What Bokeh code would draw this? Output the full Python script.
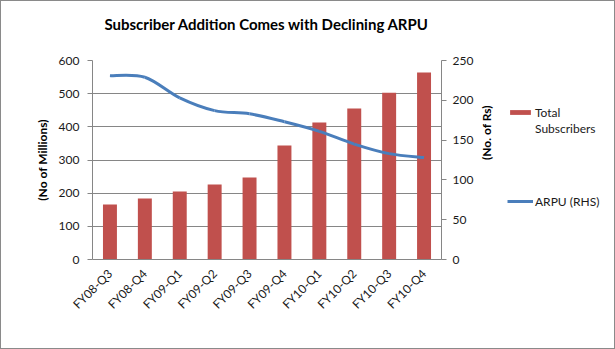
import math
from bokeh.plotting import figure
from bokeh.layouts import row
from bokeh.models import (FactorRange, Range1d, LinearAxis, FixedTicker, Legend,
                          LegendItem, Title)
from bokeh.embed import file_html
from bokeh.resources import INLINE

quarters = ["FY08-Q3", "FY08-Q4", "FY09-Q1", "FY09-Q2", "FY09-Q3",
            "FY09-Q4", "FY10-Q1", "FY10-Q2", "FY10-Q3", "FY10-Q4"]
subscribers = [166, 184, 205, 226, 247, 344, 413, 455, 503, 564]
arpu = [231, 229, 203, 187, 183, 173, 161, 145, 133, 128]
left_ticks = [0, 100, 200, 300, 400, 500, 600]
right_ticks = [0, 50, 100, 150, 200, 250]

FONT = "Lato"
GRID = "#868686"
BAR = "#C0504D"
LINE = "#4A7EBB"
TXT = "#1a1a1a"

p = figure(width=504, height=347, x_range=FactorRange(*quarters, range_padding=0),
           y_range=Range1d(0, 600), output_backend="svg", toolbar_location=None,
           min_border_left=91, min_border_right=64, min_border_top=59,
           min_border_bottom=89, title="Subscriber Addition Comes with Declining ARPU")
p.extra_y_ranges = {"arpu": Range1d(0, 250)}
p.outline_line_color = None
p.background_fill_color = "white"

p.title.align = "center"
p.title.text_font = FONT
p.title.text_font_size = "15px"
p.title.text_font_style = "bold"
p.title.text_color = "#000000"
p.title.offset = 0
p.title.standoff = 0
# empty spacer between the plot area and the title
p.add_layout(Title(text=" ", text_font_size="2px", standoff=24), "above")

bars = p.vbar(x=quarters, top=subscribers, width=0.4, fill_color=BAR, line_color=None)

# smooth ARPU line (Catmull-Rom segments built from data points)
xs = [i + 0.5 for i in range(len(arpu))]
ys = arpu
x0, y0, x1, y1, cx0, cy0, cx1, cy1 = [], [], [], [], [], [], [], []
n = len(xs)
for i in range(n - 1):
    xa, ya = xs[max(i - 1, 0)], ys[max(i - 1, 0)]
    xb, yb = xs[i], ys[i]
    xc, yc = xs[i + 1], ys[i + 1]
    xd, yd = xs[min(i + 2, n - 1)], ys[min(i + 2, n - 1)]
    x0.append(xb); y0.append(yb); x1.append(xc); y1.append(yc)
    cx0.append(xb + (xc - xa) / 6); cy0.append(yb + (yc - ya) / 6)
    cx1.append(xc - (xd - xb) / 6); cy1.append(yc - (yd - yb) / 6)
p.bezier(x0=x0, y0=y0, x1=x1, y1=y1, cx0=cx0, cy0=cy0, cx1=cx1, cy1=cy1,
         line_color=LINE, line_width=3, y_range_name="arpu")

# axes
yl = p.yaxis[0]
yl.ticker = FixedTicker(ticks=left_ticks)
yl.axis_label = "(No of Millions)"

ry = LinearAxis(y_range_name="arpu", ticker=FixedTicker(ticks=right_ticks),
                axis_label="(No. of Rs)")
p.add_layout(ry, "right")

for ax in [yl, ry]:
    ax.axis_line_color = GRID
    ax.major_tick_line_color = GRID
    ax.major_tick_out = 5
    ax.major_tick_in = 0
    ax.minor_tick_line_color = None
    ax.major_label_text_font = FONT
    ax.major_label_text_font_size = "12px"
    ax.major_label_text_color = TXT
    ax.axis_label_text_font = FONT
    ax.axis_label_text_font_size = "12px"
    ax.axis_label_text_font_style = "bold"
    ax.axis_label_text_color = "#000000"
yl.major_label_standoff = 8
yl.axis_label_standoff = 6
ry.major_label_standoff = 6
ry.axis_label_standoff = 10
ry.axis_label_orientation = math.pi / 2

xa_ = p.xaxis[0]
xa_.axis_line_color = GRID
xa_.major_tick_line_color = None
xa_.minor_tick_line_color = None
xa_.major_label_orientation = math.pi / 4
xa_.major_label_text_font = FONT
xa_.major_label_text_font_size = "12px"
xa_.major_label_text_color = TXT
xa_.major_label_standoff = 6

p.xgrid.grid_line_color = None
p.ygrid.ticker = FixedTicker(ticks=left_ticks)
p.ygrid.grid_line_color = GRID
p.ygrid.grid_line_width = 1

# legend panel (separate figure so the legend is not clipped by the plot area)
q = figure(width=109, height=347, x_range=Range1d(0, 1), y_range=Range1d(0, 1),
           output_backend="svg", toolbar_location=None, min_border=0)
q.axis.visible = False
q.grid.visible = False
q.outline_line_color = None
idx = list(range(len(quarters)))
key_bar = q.vbar(x=idx, top=subscribers, width=0.4, fill_color=BAR, line_color=None,
                 visible=False)
key_line = q.line(x=idx, y=arpu, line_color=LINE, line_width=3, visible=False)
key_blank = q.scatter(x=idx, y=arpu, fill_alpha=0, line_alpha=0, visible=False)

common = dict(orientation="vertical", border_line_color=None, background_fill_alpha=0,
              label_text_font=FONT, label_text_font_size="12px", label_text_color=TXT,
              glyph_width=26, glyph_height=6, spacing=0, padding=0, margin=0,
              label_standoff=2, label_height=16, inactive_fill_alpha=0)
leg_a = Legend(items=[LegendItem(label="Total", renderers=[key_bar]),
                      LegendItem(label="Subscribers", renderers=[key_blank])],
               location=(2, 123), **common)
leg_b = Legend(items=[LegendItem(label="ARPU (RHS)", renderers=[key_line])],
               location=(2, 50), **common)
q.add_layout(leg_a, "center")
q.add_layout(leg_b, "center")

layout = row(p, q)
layout.styles = {"border": "1px solid #8a8a8a"}

open("out.html", "w").write(file_html(layout, INLINE))
